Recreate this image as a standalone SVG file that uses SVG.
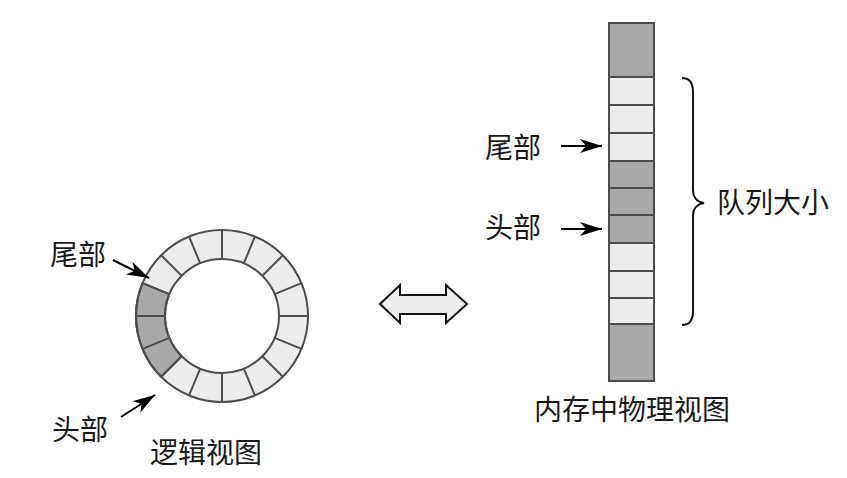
<svg xmlns="http://www.w3.org/2000/svg" width="847" height="478" viewBox="0 0 847 478">
  <style>
    text { font-family: "Noto Sans CJK SC", "Noto Sans", sans-serif; font-size: 28px; fill: #1a1a1a; }
    .light { fill: #ececec; stroke: #4d4d4d; stroke-width: 2; }
    .dark { fill: #a9a9a9; stroke: #4d4d4d; stroke-width: 2; }
    .seg { stroke: #4d4d4d; stroke-width: 2; fill: none; }
    .ptr { stroke: #000; stroke-width: 2; fill: none; }
  </style>
  <defs>
    <marker id="head" markerUnits="userSpaceOnUse" markerWidth="24" markerHeight="16" refX="22" refY="7" orient="auto">
      <path d="M0,0 L22,7 L0,14 L6,7 Z" fill="#000"/>
    </marker>
  </defs>
  <rect width="847" height="478" fill="#fff"/>

  <g id="ring">
    <circle cx="222" cy="316" r="71.5" fill="none" stroke="#ececec" stroke-width="29"/>
    <path class="dark" d="M142.55,283.09 A86,86 0 0 0 161.19,376.81 L181.69,356.31 A57,57 0 0 1 169.34,294.19 Z"/>
    <circle class="seg" cx="222" cy="316" r="86"/>
    <circle class="seg" cx="222" cy="316" r="57"/>
    <path class="seg" d="M279,316 L308,316 M165,316 L136,316 M222,259 L222,230 M222,373 L222,402
      M274.66,294.19 L301.45,283.09 M274.66,337.81 L301.45,348.91
      M169.34,294.19 L142.55,283.09 M169.34,337.81 L142.55,348.91
      M262.31,275.69 L282.81,255.19 M262.31,356.31 L282.81,376.81
      M181.69,275.69 L161.19,255.19 M181.69,356.31 L161.19,376.81
      M243.81,263.34 L254.91,236.55 M243.81,368.66 L254.91,395.45
      M200.19,263.34 L189.09,236.55 M200.19,368.66 L189.09,395.45"/>
  </g>

  <g id="ring-labels">
    <text x="50" y="265">尾部</text>
    <text x="52" y="440">头部</text>
    <text x="206" y="463" text-anchor="middle">逻辑视图</text>
  </g>

  <g id="swap-arrow">
    <polygon points="380,304 400,285 400,295 446,295 446,285 467,304 446,323 446,314 400,314 400,323" fill="#ececec" stroke="#111" stroke-width="2" stroke-linejoin="miter"/>
  </g>

  <g id="memory-column">
    <rect class="dark" x="609" y="23" width="45" height="54"/>
    <rect class="light" x="609" y="77" width="45" height="28"/>
    <rect class="light" x="609" y="105" width="45" height="28"/>
    <rect class="light" x="609" y="133" width="45" height="28"/>
    <rect class="dark" x="609" y="161" width="45" height="27"/>
    <rect class="dark" x="609" y="188" width="45" height="27"/>
    <rect class="dark" x="609" y="215" width="45" height="28"/>
    <rect class="light" x="609" y="243" width="45" height="28"/>
    <rect class="light" x="609" y="271" width="45" height="27"/>
    <rect class="light" x="609" y="298" width="45" height="26"/>
    <rect class="dark" x="609" y="324" width="45" height="57"/>
  </g>

  <g id="column-labels">
    <text x="485" y="158">尾部</text>
    <text x="485" y="238">头部</text>
    <text x="632" y="420" text-anchor="middle">内存中物理视图</text>
  </g>

  <g id="brace">
    <path d="M682,78 C689,78 693,83 693,92 L693,190 C693,197 697,202 704,203 C697,204 693,209 693,216 L693,311 C693,320 689,325 682,325" fill="none" stroke="#111" stroke-width="2"/>
    <text x="717" y="213">队列大小</text>
  </g>

  <g id="connectors">
    <line class="ptr" x1="113" y1="260" x2="149" y2="278" marker-end="url(#head)"/>
    <line class="ptr" x1="121" y1="417" x2="155" y2="395" marker-end="url(#head)"/>
    <line class="ptr" x1="561" y1="146" x2="602" y2="146" marker-end="url(#head)"/>
    <line class="ptr" x1="561" y1="229" x2="602" y2="229" marker-end="url(#head)"/>
  </g>
</svg>
